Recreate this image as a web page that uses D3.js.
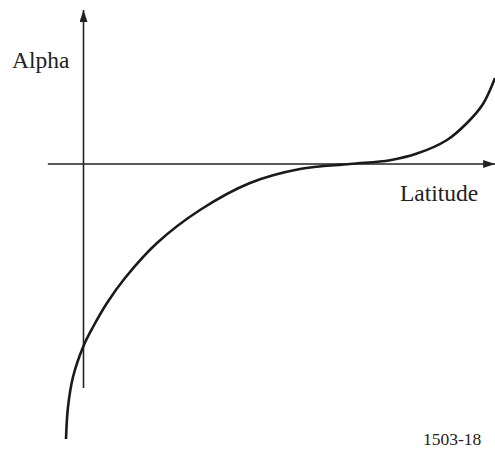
<!DOCTYPE html>
<html>
<head>
<meta charset="utf-8">
<script src="https://cdn.jsdelivr.net/npm/d3@7"></script>
<style>
  body { margin: 0; background: #fff; }
  svg { display: block; }
</style>
</head>
<body>
<div id="graphic"></div>
<script>
// curve (arbitrary units, origin at the axes crossing)
var latitude = [-4.27, -3.78, -2.56, 0, 2.32, 5.73, 10.12, 17.93, 28.41, 40.61, 52.8, 65.0, 74.76, 81.34, 88.66, 93.54, 97.44, 100.37];
var alpha    = [-137.5, -121.5, -106.5, -91, -81.5, -69.5, -57, -39.5, -23, -9.5, -2.5, 0, 1.9, 5.2, 12, 20.5, 30, 43];

// axis extents
var xAxisExtent = [-8.7, 100.4];
var yAxisExtent = [-112, 77];

var labels = {x: "Latitude", y: "Alpha", ref: "1503-18"};

var width = 495, height = 449;
var serif = "Liberation Serif";

var x = d3.scaleLinear().domain([0, 100]).range([83.5, 493.5]);
var y = d3.scaleLinear().domain([0, 50]).range([164, 64]);

var svg = d3.select("#graphic").append("svg")
  .attr("width", width)
  .attr("height", height);

var defs = svg.append("defs");
defs.append("clipPath").attr("id", "clip")
  .append("rect").attr("width", width).attr("height", height);

defs.append("marker")
  .attr("id", "arrow")
  .attr("viewBox", "0 0 12 8")
  .attr("refX", 12).attr("refY", 4)
  .attr("markerWidth", 12).attr("markerHeight", 8)
  .attr("markerUnits", "userSpaceOnUse")
  .attr("orient", "auto")
  .append("path")
  .attr("d", "M0,0 L12,4 L0,8 Z")
  .style("fill", "#222");

// x axis
svg.append("line")
  .attr("x1", x(xAxisExtent[0])).attr("x2", x(xAxisExtent[1]))
  .attr("y1", y(0)).attr("y2", y(0))
  .style("stroke", "#222").style("stroke-width", 1.6)
  .attr("marker-end", "url(#arrow)");

// y axis
svg.append("line")
  .attr("x1", x(0)).attr("x2", x(0))
  .attr("y1", y(yAxisExtent[0])).attr("y2", y(yAxisExtent[1]))
  .style("stroke", "#222").style("stroke-width", 1.6)
  .attr("marker-end", "url(#arrow)");

// the curve
var pts = latitude.map(function(d, i) { return [d, alpha[i]]; });
var line = d3.line()
  .x(function(d) { return x(d[0]); })
  .y(function(d) { return y(d[1]); })
  .curve(d3.curveCatmullRom.alpha(0.5));

svg.append("path")
  .datum(pts)
  .attr("clip-path", "url(#clip)")
  .attr("d", line)
  .style("fill", "none")
  .style("stroke", "#1a1a1a")
  .style("stroke-width", 2.6);

// labels
svg.append("text")
  .attr("x", 12).attr("y", 68)
  .style("font-family", serif)
  .style("font-size", "23.5px")
  .style("fill", "#222")
  .text(labels.y);

svg.append("text")
  .attr("x", 400).attr("y", 201)
  .style("font-family", serif)
  .style("font-size", "23.5px")
  .style("fill", "#222")
  .text(labels.x);

svg.append("text")
  .attr("x", 423).attr("y", 445)
  .style("font-family", serif)
  .style("font-size", "17.5px")
  .style("fill", "#222")
  .text(labels.ref);
</script>
</body>
</html>
